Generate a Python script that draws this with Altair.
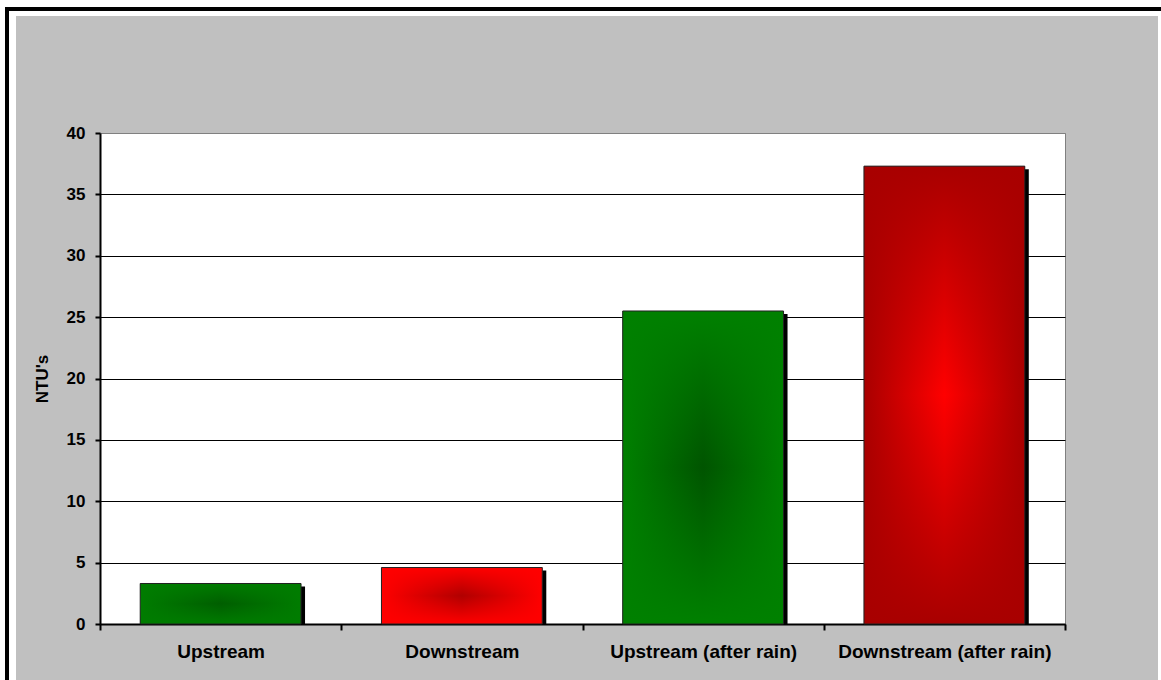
import altair as alt
import pandas as pd

categories = ["Upstream", "Downstream", "Upstream (after rain)", "Downstream (after rain)"]
values = [3.3, 4.6, 25.5, 37.3]
edge_colors = ["#007C00", "#FF0000", "#008000", "#A80000"]
center_colors = ["#005E00", "#B00000", "#005400", "#FF0000"]
y_ticks = [0, 5, 10, 15, 20, 25, 30, 35, 40]

df = pd.DataFrame({"category": categories, "value": values})

FONT = "Liberation Sans"
BAR_FRAC = 2 / 3


def rgba(hex_color, a):
    h = hex_color.lstrip("#")
    r, g, b = int(h[0:2], 16), int(h[2:4], 16), int(h[4:6], 16)
    return f"rgba({r},{g},{b},{a})"


x_enc = alt.X(
    "category:N",
    sort=categories,
    scale=alt.Scale(domain=categories, paddingInner=0, paddingOuter=0),
    axis=alt.Axis(
        title=None,
        labelAngle=0,
        labelLimit=1000,
        labelOverlap=False,
        tickBand="extent",
        tickSize=6,
        tickWidth=2,
        tickColor="black",
        domainColor="black",
        domainWidth=2,
        labelFont=FONT,
        labelFontSize=19,
        labelFontWeight="bold",
        labelColor="black",
        labelPadding=12,
        grid=False,
    ),
)
y_enc = alt.Y(
    "value:Q",
    scale=alt.Scale(domain=[0, 40], nice=False),
    axis=alt.Axis(
        title="NTU's",
        values=y_ticks,
        tickSize=5,
        tickWidth=2,
        tickColor="black",
        domainColor="black",
        domainWidth=2,
        labelFont=FONT,
        labelFontSize=17,
        labelFontWeight="bold",
        labelColor="black",
        labelPadding=10,
        titleFont=FONT,
        titleFontSize=17,
        titleFontWeight="bold",
        titleColor="black",
        titlePadding=15,
        grid=True,
        gridColor={"condition": {"test": "datum.value === 40", "value": "#808080"}, "value": "black"},
        gridWidth=1,
    ),
)

base = alt.Chart(df)
bw = alt.RelativeBandSize(BAR_FRAC)

shadow = base.mark_bar(color="black", width=bw, xOffset=4, yOffset=3, y2Offset=0).encode(
    x=x_enc, y=y_enc, y2=alt.datum(0)
)

layers = [shadow]
for cat, edge, center in zip(categories, edge_colors, center_colors):
    horiz = alt.LinearGradient(
        gradient="linear",
        stops=[
            alt.GradientStop(color=edge, offset=0),
            alt.GradientStop(color=center, offset=0.5),
            alt.GradientStop(color=edge, offset=1),
        ],
        x1=0, x2=1, y1=0, y2=0,
    )
    vert = alt.LinearGradient(
        gradient="linear",
        stops=[
            alt.GradientStop(color=rgba(edge, 1), offset=0),
            alt.GradientStop(color=rgba(edge, 0), offset=0.5),
            alt.GradientStop(color=rgba(edge, 1), offset=1),
        ],
        x1=0, x2=0, y1=0, y2=1,
    )
    f = alt.FieldEqualPredicate(field="category", equal=cat)
    layers.append(
        base.transform_filter(f).mark_bar(color=horiz, width=bw).encode(x=x_enc, y=y_enc)
    )
    layers.append(
        base.transform_filter(f)
        .mark_bar(color=vert, width=bw, stroke="#222222", strokeWidth=1)
        .encode(x=x_enc, y=y_enc)
    )

one = alt.InlineData(values=[{"k": 0}])


def frame_rect(x, x2, y, y2, color):
    return alt.Chart(one).mark_rect(color=color).encode(
        x=alt.value(x), x2=alt.value(x2), y=alt.value(y), y2=alt.value(y2)
    )


frame = [
    frame_rect(-100, -84, -133, 547, "white"),
    frame_rect(-100, 1061, -133, -117, "white"),
    frame_rect(1058, 1061, -133, 547, "white"),
    frame_rect(-95, -91, -126, 547, "black"),
    frame_rect(-95, 1061, -126, -122, "black"),
]

chart = (
    alt.layer(*frame, *layers)
    .properties(
        width=965,
        height=491,
        background="#C0C0C0",
        padding={"left": 100, "top": 133, "right": 96, "bottom": 56},
        autosize=alt.AutoSizeParams(type="none"),
    )
    .configure_view(fill="white", stroke="#808080", strokeWidth=1)
)

chart.save("out.html", embed_options={"renderer": "svg", "actions": False})
